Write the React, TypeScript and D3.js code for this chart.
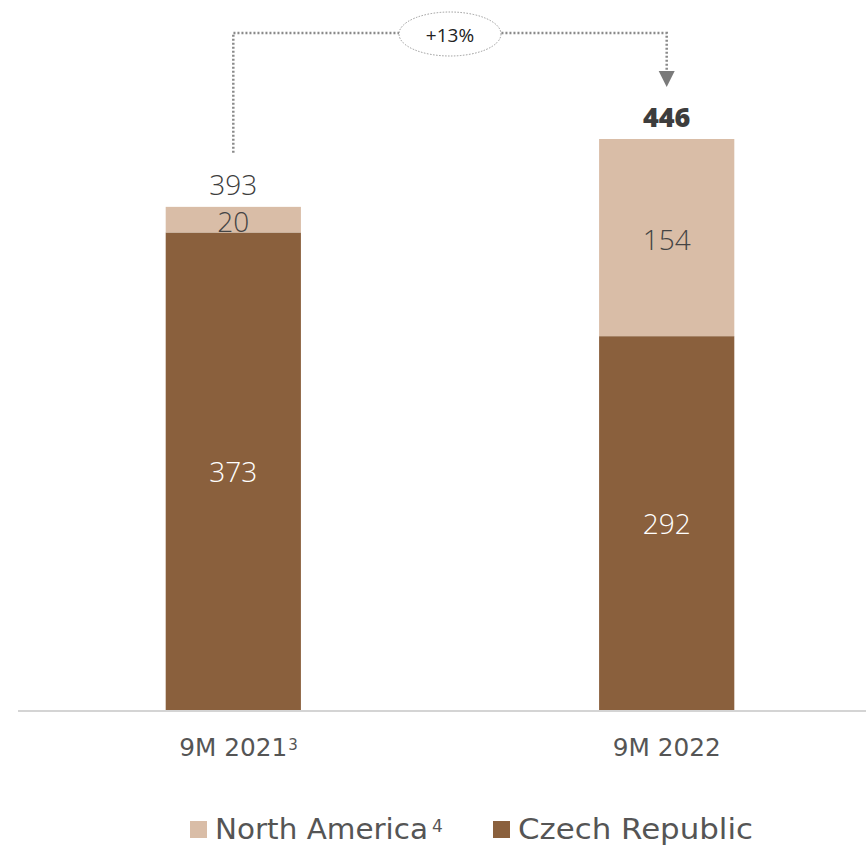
import React from "react";
import * as d3 from "d3";

const categories = ["9M 2021", "9M 2022"];
const categorySup = ["3", ""];
const czech = [373, 292];
const northAmerica = [20, 154];
const totals = [393, 446];
const seriesNames = ["North America", "Czech Republic"];
const seriesSup = ["4", ""];
const growthLabel = "+13%";

const W = 866;
const H = 846;
const COL_LIGHT = "#D9BDA7";
const COL_DARK = "#8A603D";
const FONT = "'Open Sans', Lato, sans-serif";
const WIDE_FONT = "'DejaVu Sans', 'Open Sans', sans-serif";

export default function App() {
  const x = d3.scaleBand().domain(categories).range([14, 886]).paddingInner(0.688).paddingOuter(0.35);
  const y = d3.scaleLinear().domain([0, 446]).range([710, 139]);
  const bw = x.bandwidth();
  const cx = (c: string) => (x(c) as number) + bw / 2;

  const x1 = cx(categories[0]);
  const x2 = cx(categories[1]);
  const lineY = 33;
  const midX = 450;

  const legendX = [190, 493];
  const legendTextLen = [213, 235];

  return (
    <svg width={W} height={H} style={{ position: "absolute", left: 0, top: 0, background: "#fff" }} fontFamily={FONT}>
      {categories.map((c, i) => {
        const bx = x(c) as number;
        const yCz = y(czech[i]);
        const yTot = y(czech[i] + northAmerica[i]);
        const labelStart = cx(c) - 54;
        return (
          <g key={c}>
            <rect x={bx} y={yCz} width={bw} height={y(0) - yCz} fill={COL_DARK} />
            <rect x={bx} y={yTot} width={bw} height={yCz - yTot} fill={COL_LIGHT} />
            <text x={cx(c)} y={(yCz + y(0)) / 2} textAnchor="middle" dominantBaseline="central" fill="#fff" fontSize={28} fontWeight={300}>
              {czech[i]}
            </text>
            <text x={cx(c)} y={(yCz + yTot) / 2 + 1} textAnchor="middle" dominantBaseline="central" fill="#444" fontSize={28} fontWeight={300}>
              {northAmerica[i]}
            </text>
            <text
              x={cx(c)}
              y={yTot - 23}
              textAnchor="middle"
              dominantBaseline="central"
              fill="#3d3d3d"
              fontSize={i === 1 ? 27 : 28}
              fontWeight={i === 1 ? 800 : 300}
            >
              {totals[i]}
            </text>
            <text x={labelStart} y={756} fill="#555" fontSize={25} fontFamily={WIDE_FONT} textLength={108} lengthAdjust="spacingAndGlyphs">
              {c}
            </text>
            {categorySup[i] && (
              <text x={labelStart + 109} y={750} fill="#555" fontSize={15} fontFamily={WIDE_FONT}>
                {categorySup[i]}
              </text>
            )}
          </g>
        );
      })}
      <line x1={18} x2={W} y1={711} y2={711} stroke="#d4d4d4" strokeWidth={2} />

      {/* growth connector */}
      <path
        d={`M${x1},${y(totals[0]) - 54} V${lineY} H${x2} V${71}`}
        fill="none"
        stroke="#8a8a8a"
        strokeWidth={2.5}
        strokeDasharray="2,2"
      />
      <path d={`M${x2 - 8},${71} L${x2 + 8},${71} L${x2},${87} Z`} fill="#7a7a7a" />
      <ellipse cx={midX} cy={34} rx={51} ry={22} fill="#fff" stroke="#999" strokeWidth={1} strokeDasharray="1.5,1.5" />
      <text x={midX} y={35} textAnchor="middle" dominantBaseline="central" fontSize={19} fill="#222" fontWeight={400}>
        {growthLabel}
      </text>

      {/* legend */}
      {seriesNames.map((s, i) => {
        const lx = legendX[i];
        return (
          <g key={s}>
            <rect x={lx} y={821} width={17} height={17} fill={i === 0 ? COL_LIGHT : COL_DARK} />
            <text
              x={lx + 25}
              y={839}
              fontSize={29}
              fill="#555"
              fontFamily={WIDE_FONT}
              textLength={legendTextLen[i]}
              lengthAdjust="spacingAndGlyphs"
            >
              {s}
            </text>
            {seriesSup[i] && (
              <text x={lx + 25 + legendTextLen[i] + 4} y={832} fontSize={17} fill="#555" fontFamily={WIDE_FONT}>
                {seriesSup[i]}
              </text>
            )}
          </g>
        );
      })}
    </svg>
  );
}
